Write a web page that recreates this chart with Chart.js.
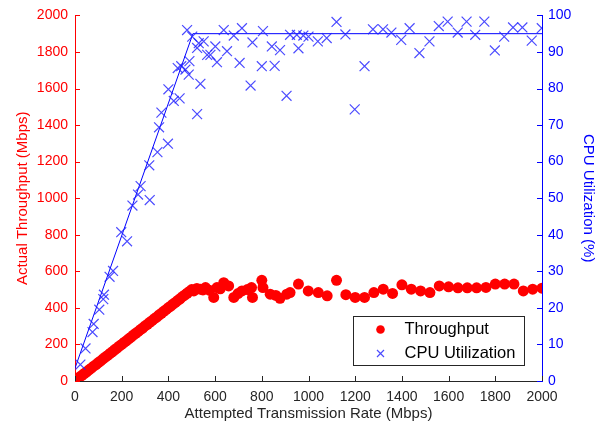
<!DOCTYPE html>
<html>
<head>
<meta charset="utf-8">
<script src="https://cdn.jsdelivr.net/npm/chart.js"></script>
<style>
  html, body { margin: 0; padding: 0; background: #fff; }
</style>
</head>
<body>
<canvas id="cntThroughput_Chart" width="603" height="428"></canvas>
<script>
  // throughput measurements (Mbps)
  var thrRate = [10,20,30,40,50,60,70,80,90,100,110,120,130,140,150,160,170,180,190,200,
    210,220,230,240,250,260,270,280,290,300,310,320,330,340,350,360,370,380,390,400,
    410,420,430,440,450,460,470,480,490,500,509,522,537,548,559,575,594,608,622,637,
    658,680,698,715,738,756,760,800,805,836,860,878,907,921,957,999,1042,1080,1120,1160,
    1200,1240,1280,1320,1360,1400,1440,1480,1520,1560,1600,1640,1680,1720,1760,1800,1840,1880,1920,1960,2000];
  var thrValue = [14,22,31,41,50,61,70,81,90,101,110,121,131,140,151,160,171,180,191,200,
    211,220,231,240,251,261,270,281,290,301,310,321,330,341,350,361,370,381,390,401,
    410,421,430,441,450,461,470,480,490,500,493,506,502,498,511,497,457,511,504,538,
    520,457,478,493,500,511,457,551,511,475,468,452,475,484,530,493,484,466,551,472,
    457,457,484,502,479,526,502,493,484,520,515,510,510,510,512,530,530,530,493,502,508];

  // CPU utilization measurements (%)
  var cpuRate = [23,45,75,80,104,121,124,148,163,198,223,246,270,281,318,320,353,360,370,398,
    400,423,440,448,455,473,480,487,490,502,523,523,530,537,551,566,580,601,608,637,
    651,680,705,715,752,760,800,805,843,855,878,906,921,950,957,978,1000,1040,1078,1120,
    1158,1198,1240,1276,1319,1355,1397,1433,1475,1518,1558,1596,1639,1677,1714,1753,1798,1838,1876,1916,1956,1999];
  var cpuValue = [4.5,8.9,13.4,15.6,19.5,22.4,23.6,28.5,30.1,40.7,38.2,48,51,53.3,59,49.5,62.6,69.4,73.4,64.9,
    79.8,76.6,85.6,77.3,86.1,85.2,96,83.8,87.5,94.2,91.1,73,92.4,81.3,92.9,89.2,89.2,91.5,87.2,96,
    90.2,94.5,87,96.5,80.8,92.6,86.1,95.7,91.5,86.2,90.5,78,94.7,94.7,91,94.5,94.2,92.9,93.8,98.2,
    94.8,74.3,86.1,96.2,96.2,95.3,93.3,96.5,89.7,92.9,97.1,98.3,95.3,98.3,94.7,98.3,90.4,94.2,96.7,96.7,93.1,96.5];

  // piecewise fit of CPU utilization
  var fitRate = [0, 505, 2000];
  var fitCpu = [3.5, 95, 95];

  var legendLabels = ['Throughput', 'CPU Utilization'];

  var FONT = '"Liberation Sans", Arial, Helvetica, sans-serif';
  var ROJO = '#ff0000', AZUL = '#0000ff', GRIS = '#262626';
  var AZUL_X = 'rgba(30,30,255,0.8)';

  function toPoints(xs, ys){
    var out = [];
    for (var i = 0; i < xs.length; i++) out.push({x: xs[i], y: ys[i]});
    return out;
  }
  function plainTick(v){ return String(v); }

  // ticks pointing inwards, like the original plot
  var innerTicks = {
    id: 'innerTicks',
    afterDraw: function(chart){
      var ctx = chart.ctx, a = chart.chartArea, s = chart.scales;
      ctx.save();
      ctx.lineWidth = 1;
      ctx.strokeStyle = GRIS;
      s.x.ticks.forEach(function(t){
        var px = Math.round(s.x.getPixelForValue(t.value)) + 0.5;
        ctx.beginPath(); ctx.moveTo(px, a.bottom); ctx.lineTo(px, a.bottom - 5); ctx.stroke();
      });
      ctx.strokeStyle = ROJO;
      s.y.ticks.forEach(function(t){
        var py = Math.round(s.y.getPixelForValue(t.value)) + 0.5;
        ctx.beginPath(); ctx.moveTo(a.left, py); ctx.lineTo(a.left + 5, py); ctx.stroke();
      });
      ctx.strokeStyle = AZUL;
      s.y2.ticks.forEach(function(t){
        var py = Math.round(s.y2.getPixelForValue(t.value)) + 0.5;
        ctx.beginPath(); ctx.moveTo(a.right, py); ctx.lineTo(a.right - 5, py); ctx.stroke();
      });
      ctx.restore();
    }
  };

  // legend box inside the plot (south east)
  var boxLegend = {
    id: 'boxLegend',
    afterDraw: function(chart){
      var ctx = chart.ctx, a = chart.chartArea;
      var w = 171, h = 49;
      var l = Math.round(a.right - 18 - w) + 0.5, t = Math.round(a.bottom - 16 - h) + 0.5;
      ctx.save();
      ctx.fillStyle = '#fff';
      ctx.fillRect(l, t, w, h);
      ctx.strokeStyle = GRIS;
      ctx.lineWidth = 1;
      ctx.strokeRect(l, t, w, h);

      ctx.fillStyle = ROJO;
      ctx.beginPath(); ctx.arc(l + 27, t + 13, 4.3, 0, Math.PI * 2); ctx.fill();

      ctx.strokeStyle = AZUL_X;
      ctx.lineWidth = 1.2;
      ctx.beginPath();
      ctx.moveTo(l + 23.5, t + 33.5); ctx.lineTo(l + 30.5, t + 40.5);
      ctx.moveTo(l + 30.5, t + 33.5); ctx.lineTo(l + 23.5, t + 40.5);
      ctx.stroke();

      ctx.fillStyle = '#000';
      ctx.font = '16.5px ' + FONT;
      ctx.textBaseline = 'middle';
      ctx.fillText(legendLabels[0], l + 51, t + 13);
      ctx.fillText(legendLabels[1], l + 51, t + 37);
      ctx.restore();
    }
  };

  var config = {
    type: 'scatter',
    data: {
      datasets: [{
        label: legendLabels[1],
        data: toPoints(cpuRate, cpuValue),
        yAxisID: 'y2',
        pointStyle: 'crossRot',
        pointRadius: 7,
        pointBorderWidth: 1.2,
        borderColor: AZUL_X,
        backgroundColor: AZUL_X,
        order: 1
      }, {
        label: 'fit',
        type: 'line',
        data: toPoints(fitRate, fitCpu),
        yAxisID: 'y2',
        borderColor: AZUL,
        borderWidth: 1,
        pointRadius: 0,
        fill: false,
        order: 2
      }, {
        label: legendLabels[0],
        data: toPoints(thrRate, thrValue),
        yAxisID: 'y',
        pointStyle: 'circle',
        pointRadius: 5.5,
        pointBorderWidth: 0,
        borderColor: ROJO,
        backgroundColor: ROJO,
        order: 3
      }]
    },
    options: {
      responsive: false,
      animation: false,
      devicePixelRatio: 1,
      layout: { padding: { top: 12, left: 0, right: 0, bottom: 0 } },
      plugins: {
        legend: { display: false },
        tooltip: { enabled: false }
      },
      scales: {
        x: {
          type: 'linear', min: 0, max: 2000,
          ticks: { stepSize: 200, callback: plainTick, color: GRIS, font: { family: FONT, size: 14 }, padding: 8, maxRotation: 0, autoSkip: false },
          grid: { display: true, drawOnChartArea: false, drawTicks: false },
          border: { color: GRIS, width: 1 },
          title: { display: true, text: 'Attempted Transmission Rate (Mbps)', color: GRIS,
                   font: { family: FONT, size: 15 }, padding: { top: 0, bottom: 5 } },
          afterFit: function(s){ s.height = 47; }
        },
        y: {
          type: 'linear', position: 'left', min: 0, max: 2000,
          ticks: { stepSize: 200, callback: plainTick, color: ROJO, font: { family: FONT, size: 14 }, padding: 7 },
          grid: { display: true, drawOnChartArea: false, drawTicks: false },
          border: { color: ROJO, width: 1 },
          title: { display: true, text: 'Actual Throughput (Mbps)', color: ROJO,
                   font: { family: FONT, size: 15 }, padding: { top: 14, bottom: 0 } },
          afterFit: function(s){ s.width = 75; }
        },
        y2: {
          type: 'linear', position: 'right', min: 0, max: 100,
          ticks: { stepSize: 10, callback: plainTick, color: AZUL, font: { family: FONT, size: 14 }, padding: 6 },
          grid: { display: true, drawOnChartArea: false, drawTicks: false },
          border: { color: AZUL, width: 1 },
          title: { display: true, text: 'CPU Utilization (%)', color: AZUL,
                   font: { family: FONT, size: 15 }, padding: { top: 6, bottom: 0 } },
          afterFit: function(s){ s.width = 61; }
        }
      }
    },
    plugins: [innerTicks, boxLegend]
  };

  var ctx = document.getElementById('cntThroughput_Chart').getContext('2d');
  window.cntThroughput_Grafica = new Chart(ctx, config);
</script>
</body>
</html>
